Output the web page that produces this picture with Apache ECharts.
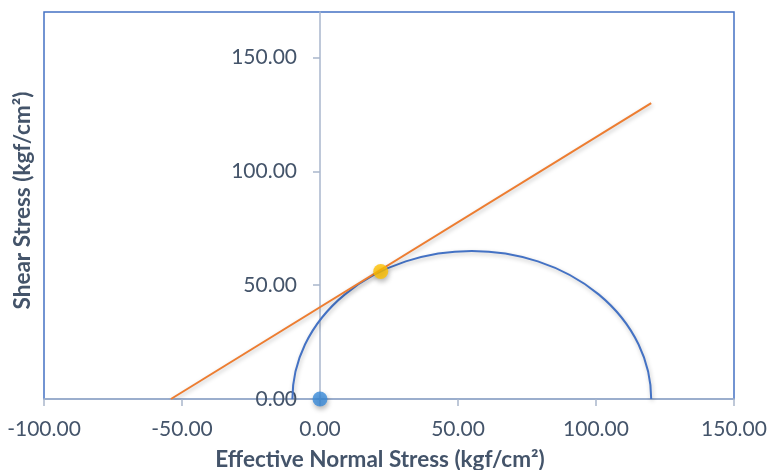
<!DOCTYPE html>
<html>
<head>
<meta charset="utf-8">
<script src="https://cdn.jsdelivr.net/npm/echarts@6/dist/echarts.min.js"></script>
<style>html,body{margin:0;padding:0;background:#fff}#c{width:768px;height:470px}</style>
</head>
<body>
<div id="c"></div>
<script>
// Mohr circle principal stresses (sigma3, sigma1)
const mohrCircle = [[-10, 120]];
// Failure envelope (Mohr-Coulomb line) endpoints
const envelope = [[-54, 0], [120, 130]];
// Tangent point
const tangentPoint = [[22, 56]];
// Origin point
const originPoint = [[0, 0]];
// Tick values
const xTicks = [-100, -50, 0, 50, 100, 150];
const yTicks = [0, 50, 100, 150];

const textColor = '#44546A';
const axisColor = '#A9B6CC';
const font = 'Lato';

const gridLeft = 44, gridRight = 34;
const chartW = 768;
const xMin = -100, xMax = 150;
// shift the y axis so it sits at x = 0 of the x axis
const yAxisOffset = -((0 - xMin) / (xMax - xMin)) * (chartW - gridLeft - gridRight);

const chart = echarts.init(document.getElementById('c'), null, {renderer: 'canvas'});
chart.setOption({
  animation: false,
  backgroundColor: '#fff',
  grid: {left: gridLeft, right: gridRight, top: 12, bottom: 71, show: true, borderColor: '#4472C4', borderWidth: 1.5,
    containLabel: false, outerBoundsMode: 'none'},
  xAxis: {
    type: 'value', min: xMin, max: xMax, interval: 50,
    name: 'Effective Normal Stress (kgf/cm²)', nameLocation: 'middle', nameGap: 49,
    nameTextStyle: {color: textColor, fontFamily: font, fontWeight: 'bold', fontSize: 22.5, padding: [0, 18, 0, 0]},
    axisLine: {show: true, onZero: false, lineStyle: {color: axisColor, width: 1.5}},
    axisTick: {show: true, inside: false, length: 7, lineStyle: {color: axisColor, width: 1.5}},
    axisLabel: {color: textColor, fontFamily: font, fontSize: 21, margin: 20,
      formatter: v => v.toFixed(2)},
    splitLine: {show: false}
  },
  yAxis: {
    type: 'value', min: 0, max: 170, offset: yAxisOffset,
    name: 'Shear Stress (kgf/cm²)', nameLocation: 'middle', nameGap: 286, nameRotate: 90,
    nameTextStyle: {color: textColor, fontFamily: font, fontWeight: 'bold', fontSize: 22.5, padding: [0, 0, 0, 10]},
    axisLine: {show: true, onZero: false, lineStyle: {color: axisColor, width: 1.5}},
    axisTick: {show: true, inside: false, length: 7, customValues: yTicks, lineStyle: {color: axisColor, width: 1.5}},
    axisLabel: {color: textColor, fontFamily: font, fontSize: 21, margin: 23, customValues: yTicks,
      formatter: v => v.toFixed(2)},
    splitLine: {show: false}
  },
  series: [
    {
      type: 'custom',
      data: mohrCircle,
      clip: false,
      renderItem: function (params, api) {
        const s3 = api.value(0), s1 = api.value(1);
        const p1 = api.coord([s3, 0]);
        const p2 = api.coord([s1, 0]);
        const r = (s1 - s3) / 2;
        const rx = api.size([r, 0])[0];
        const ry = api.size([0, r])[1];
        return {
          type: 'path',
          shape: {pathData: `M ${p1[0]} ${p1[1]} A ${rx} ${ry} 0 0 1 ${p2[0]} ${p2[1]}`},
          style: {fill: null, stroke: '#4472C4', lineWidth: 2,
            shadowBlur: 4, shadowColor: 'rgba(0,0,0,0.25)', shadowOffsetX: 1, shadowOffsetY: 2}
        };
      },
      z: 3
    },
    {
      type: 'line', data: envelope, symbol: 'none',
      lineStyle: {color: '#ED7D31', width: 2, shadowBlur: 4, shadowColor: 'rgba(0,0,0,0.25)', shadowOffsetX: 1, shadowOffsetY: 2},
      z: 4
    },
    {
      type: 'scatter', data: originPoint, symbol: 'circle', symbolSize: 15,
      itemStyle: {color: '#3A8BDA', shadowBlur: 5, shadowColor: 'rgba(0,0,0,0.35)', shadowOffsetX: 1, shadowOffsetY: 3},
      z: 5
    },
    {
      type: 'scatter', data: tangentPoint, symbol: 'circle', symbolSize: 15,
      itemStyle: {color: '#FFC000', shadowBlur: 5, shadowColor: 'rgba(0,0,0,0.35)', shadowOffsetX: 1, shadowOffsetY: 3},
      z: 5
    }
  ]
});
</script>
</body>
</html>
